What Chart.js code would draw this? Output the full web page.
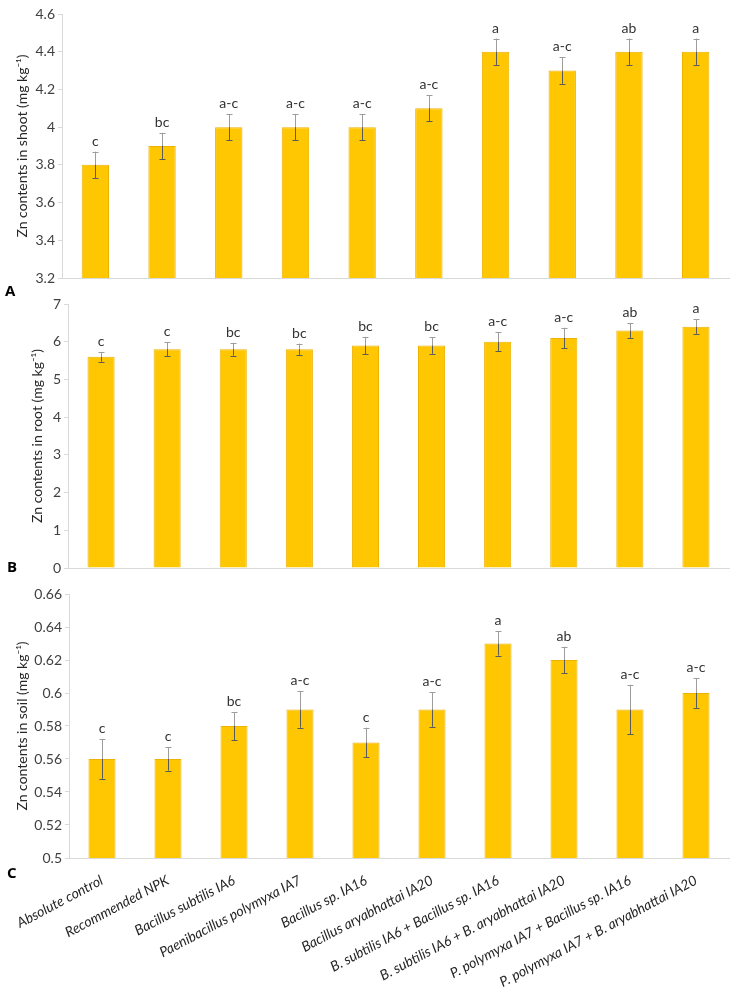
<!DOCTYPE html>
<html><head><meta charset="utf-8">
<script src="https://cdn.jsdelivr.net/npm/chart.js@4.4.1/dist/chart.umd.min.js"></script>
<style>
body{margin:0;background:#fff;width:736px;height:993px;position:relative;overflow:hidden;font-family:Lato,sans-serif}
canvas{position:absolute;left:0}
.pl{position:absolute;font:bold 15px "Open Sans",sans-serif;color:#000;line-height:1}
</style></head><body>
<canvas id="cA" width="736" height="292" style="top:0"></canvas>
<canvas id="cB" width="736" height="292" style="top:290px"></canvas>
<canvas id="cC" width="736" height="413" style="top:580px"></canvas>
<div class="pl" style="left:5px;top:283px">A</div>
<div class="pl" style="left:7px;top:559px">B</div>
<div class="pl" style="left:7px;top:865px">C</div>
<script>
const categories = ["Absolute control","Recommended NPK","Bacillus subtilis IA6","Paenibacillus polymyxa IA7","Bacillus sp. IA16","Bacillus aryabhattai IA20","B. subtilis IA6 + Bacillus sp. IA16","B. subtilis IA6 + B. aryabhattai IA20","P. polymyxa IA7 + Bacillus sp. IA16","P. polymyxa IA7 + B. aryabhattai IA20"];

const shootValues  = [3.8, 3.9, 4.0, 4.0, 4.0, 4.1, 4.4, 4.3, 4.4, 4.4];
const shootErrors  = [0.07, 0.07, 0.07, 0.07, 0.07, 0.07, 0.07, 0.07, 0.07, 0.07];
const shootLetters = ["c","bc","a-c","a-c","a-c","a-c","a","a-c","ab","a"];
const shootAxis    = [3.2, 4.6, 0.2];

const rootValues  = [5.6, 5.8, 5.8, 5.8, 5.9, 5.9, 6.0, 6.1, 6.3, 6.4];
const rootErrors  = [0.13, 0.18, 0.17, 0.15, 0.23, 0.22, 0.25, 0.27, 0.2, 0.19];
const rootLetters = ["c","c","bc","bc","bc","bc","a-c","a-c","ab","a"];
const rootAxis    = [0, 7, 1];

const soilValues  = [0.56, 0.56, 0.58, 0.59, 0.57, 0.59, 0.63, 0.62, 0.59, 0.60];
const soilErrors  = [0.012, 0.007, 0.0085, 0.011, 0.009, 0.0105, 0.0073, 0.008, 0.015, 0.009];
const soilLetters = ["c","c","bc","a-c","c","a-c","a","ab","a-c","a-c"];
const soilAxis    = [0.5, 0.66, 0.02];

const FONT = 'Lato';
const errPlugin = {
  id: 'errbars',
  afterDatasetsDraw(chart) {
    const ctx = chart.ctx, ys = chart.scales.y;
    const ds = chart.data.datasets[0];
    const meta = chart.getDatasetMeta(0);
    ctx.save();
    meta.data.forEach((bar, i) => {
      const v = ds.data[i], e = ds.errors[i];
      const x = Math.round(bar.x) + 0.5;
      const yT = ys.getPixelForValue(v + e), yB = ys.getPixelForValue(v - e), yV = bar.y;
      ctx.lineWidth = 1;
      ctx.strokeStyle = '#9d9d9d';
      ctx.beginPath();
      ctx.moveTo(x, yT); ctx.lineTo(x, yV);
      ctx.moveTo(x - 3, Math.round(yT) + 0.5); ctx.lineTo(x + 3, Math.round(yT) + 0.5);
      ctx.stroke();
      ctx.strokeStyle = '#5a5a5a';
      ctx.beginPath();
      ctx.moveTo(x, yV); ctx.lineTo(x, yB);
      ctx.moveTo(x - 3, Math.round(yB) + 0.5); ctx.lineTo(x + 3, Math.round(yB) + 0.5);
      ctx.stroke();
      ctx.fillStyle = '#333';
      ctx.font = '14px ' + FONT;
      ctx.textAlign = 'center';
      ctx.textBaseline = 'alphabetic';
      ctx.fillText(ds.letters[i], bar.x, yT - 6);
    });
    ctx.restore();
  }
};

function makeChart(id, values, errors, letters, axis, title, yWidth, titlePad, showX) {
  return new Chart(document.getElementById(id), {
    type: 'bar',
    data: {
      labels: categories,
      datasets: [{
        data: values, errors: errors, letters: letters,
        backgroundColor: '#FFC602', borderColor: '#EDB200', borderWidth: 1,
        barPercentage: 0.41, categoryPercentage: 1
      }]
    },
    options: {
      responsive: false, animation: false,
      layout: { padding: { top: 14, right: 7, bottom: showX ? 0 : 14, left: 0 } },
      plugins: { legend: { display: false }, tooltip: { enabled: false } },
      scales: {
        x: {
          grid: { display: false, drawTicks: false },
          border: { color: '#d9d9d9', width: 1 },
          ticks: {
            display: showX, autoSkip: false, minRotation: 28, maxRotation: 28, padding: 14,
            color: '#262626', font: { family: FONT, size: 14, style: 'italic' }
          },
          afterFit(s) { s.height = showX ? 135 : 0; }
        },
        y: {
          min: axis[0], max: axis[1],
          grid: { drawOnChartArea: false, color: '#d9d9d9', tickLength: 4 },
          border: { color: '#d9d9d9', width: 1 },
          ticks: {
            stepSize: axis[2], padding: 3, color: '#404040', font: { family: FONT, size: 14 },
            callback: v => String(Math.round(v * 1000) / 1000)
          },
          title: { display: true, text: title, color: '#262626', font: { family: FONT, size: 14 }, padding: { top: titlePad, bottom: 0 } },
          afterFit(s) { s.width = yWidth; }
        }
      }
    },
    plugins: [errPlugin]
  });
}

makeChart('cA', shootValues, shootErrors, shootLetters, shootAxis, 'Zn contents in shoot (mg kg\u207B\u00B9)', 62, 14, false);
makeChart('cB', rootValues, rootErrors, rootLetters, rootAxis, 'Zn contents in root (mg kg\u207B\u00B9)', 68, 29, false);
makeChart('cC', soilValues, soilErrors, soilLetters, soilAxis, 'Zn contents in soil (mg kg\u207B\u00B9)', 69, 14, true);
</script>
</body></html>
